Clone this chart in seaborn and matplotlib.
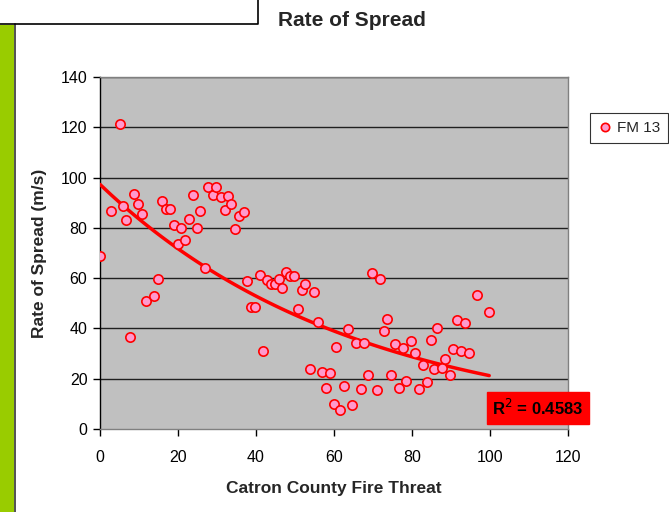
import matplotlib
matplotlib.use("Agg")
import matplotlib.pyplot as plt
import seaborn as sns
import numpy as np
import pandas as pd
from matplotlib.patches import Rectangle
from matplotlib.lines import Line2D

# ---- data ----
fire_threat = [0, 2.9, 5, 6.0, 6.7, 7.7, 8.7, 9.7, 10.8, 11.8, 13.8, 14.9, 15.8, 16.8, 17.9,
               19.0, 20.0, 20.7, 21.7, 22.7, 23.8, 24.8, 25.7, 26.8, 27.8, 28.9, 29.8, 30.9,
               32.0, 32.9, 33.7, 34.6, 35.6, 36.8, 37.7, 38.7, 39.7, 40.9, 41.9, 42.8, 43.8,
               44.9, 45.9, 46.6, 47.6, 48.6, 49.7, 50.7, 51.7, 52.6, 53.8, 54.9, 55.8, 56.8,
               57.9, 58.9, 59.9, 60.6, 61.6, 62.6, 63.7, 64.7, 65.7, 66.8, 67.8, 68.8, 69.8,
               70.9, 71.9, 72.9, 73.6, 74.6, 75.6, 76.7, 77.6, 78.4, 79.7, 80.8, 81.7, 82.8,
               83.8, 84.9, 85.7, 86.5, 87.6, 88.5, 89.7, 90.6, 91.6, 92.6, 93.7, 94.7, 96.7, 99.8]
rate_of_spread = [69, 86.8, 121.2, 88.8, 83.1, 36.5, 93.6, 89.5, 85.7, 50.8, 53.0, 59.7, 90.6,
                  87.4, 87.4, 81.0, 73.6, 79.8, 75.2, 83.7, 93.1, 79.8, 86.7, 64.0, 96.4, 93.1,
                  96.4, 92.2, 87.2, 92.7, 89.4, 79.4, 84.7, 86.3, 58.9, 48.7, 48.7, 61.4, 31.2,
                  59.3, 57.7, 57.7, 59.8, 56.1, 62.6, 60.9, 60.9, 47.7, 55.2, 57.8, 23.9, 54.5,
                  42.4, 22.7, 16.4, 22.2, 10.1, 32.7, 7.4, 17.0, 39.7, 9.5, 34.3, 16.0, 34.3,
                  21.6, 61.9, 15.4, 59.7, 39.1, 43.9, 21.6, 33.8, 16.4, 32.3, 19.2, 34.9, 30.2,
                  15.9, 25.3, 18.6, 35.4, 23.7, 40.2, 24.3, 28.0, 21.6, 31.7, 43.4, 31.2, 42.3,
                  30.2, 53.4, 46.5]
series_name = "FM 13"
x_ticks = [0, 20, 40, 60, 80, 100, 120]
y_ticks = [0, 20, 40, 60, 80, 100, 120, 140]
r2_label = "R$^2$ = 0.4583"

df = pd.DataFrame({"x": fire_threat, "y": rate_of_spread})

# exponential trendline (as in the spreadsheet chart), fitted from the data
b, log_a = np.polyfit(df["x"], np.log(df["y"]), 1)
trend = pd.DataFrame({"x": df["x"], "y": np.exp(log_a + b * df["x"])})

sns.set_theme(style="white")
plt.rcParams["font.family"] = ["Liberation Sans", "DejaVu Sans"]

W, H = 669, 512
fig = plt.figure(figsize=(W / 100, H / 100), dpi=100)
fig.patch.set_facecolor("white")
ax = fig.add_axes([100 / W, 1 - 429 / H, 468 / W, 352 / H])
ax.set_facecolor("#C0C0C0")

# grid lines
for yv in y_ticks[1:]:
    ax.axhline(yv, color="#202020", lw=1.0, zorder=1)

sns.lineplot(data=trend, x="x", y="y", ax=ax, color="#FF0000", lw=2.5, zorder=3,
             legend=False)
sns.scatterplot(data=df, x="x", y="y", ax=ax, s=45, color="#FF99CC",
                edgecolor="#FF0000", linewidth=1.2, zorder=4, legend=False)

ax.set_xlim(0, 120)
ax.set_ylim(0, 140)
ax.set_xticks(x_ticks)
ax.set_yticks(y_ticks)
ax.tick_params(axis="both", direction="out", length=5, width=1, color="#000000",
               labelsize=11.5, labelcolor="black", bottom=True, left=True)
ax.tick_params(axis="x", pad=10)
ax.tick_params(axis="y", pad=4)
for s in ["top", "right", "bottom"]:
    ax.spines[s].set_color("#808080")
    ax.spines[s].set_linewidth(1.0)
ax.spines["left"].set_color("black")
ax.spines["left"].set_linewidth(1.0)

ax.set_xlabel("Catron County Fire Threat", fontsize=12.5, fontweight="bold", labelpad=12)
ax.set_ylabel("Rate of Spread (m/s)", fontsize=12.5, fontweight="bold", labelpad=10)

fig.text(352 / W, 1 - 20 / H, "Rate of Spread", ha="center", va="center",
         fontsize=15, fontweight="bold")

# R^2 box
ax.text(538 / W, 1 - 408 / H, r2_label, transform=fig.transFigure, ha="center", va="center",
        fontsize=12, fontweight="bold", color="black",
        bbox=dict(boxstyle="square,pad=0.35", facecolor="#FF0000", edgecolor="#FF0000"), zorder=6)

# legend
handle = Line2D([], [], marker="o", linestyle="none", markersize=6,
                markerfacecolor="#FF99CC", markeredgecolor="#FF0000", markeredgewidth=1.2)
leg = fig.legend([handle], [series_name], loc="center", bbox_to_anchor=(629 / W, 1 - 128 / H),
                 frameon=True, fontsize=11, handletextpad=0.3, handlelength=1.0,
                 borderpad=0.5, fancybox=False, edgecolor="#000000")
leg.get_frame().set_linewidth(0.8)

# decorations: green bar and top white box
fig.patches.append(Rectangle((0, 0), 14 / W, 1 - 25 / H, transform=fig.transFigure,
                             facecolor="#99CC00", edgecolor="none", zorder=0))
fig.lines.append(Line2D([14.5 / W, 14.5 / W], [0, 1 - 24 / H], transform=fig.transFigure,
                        color="#333333", lw=1.2))
fig.lines.append(Line2D([0, 258 / W, 258 / W], [1 - 24 / H, 1 - 24 / H, 1],
                        transform=fig.transFigure, color="#000000", lw=1.2))

fig.savefig("out.png", dpi=100, facecolor="white")
